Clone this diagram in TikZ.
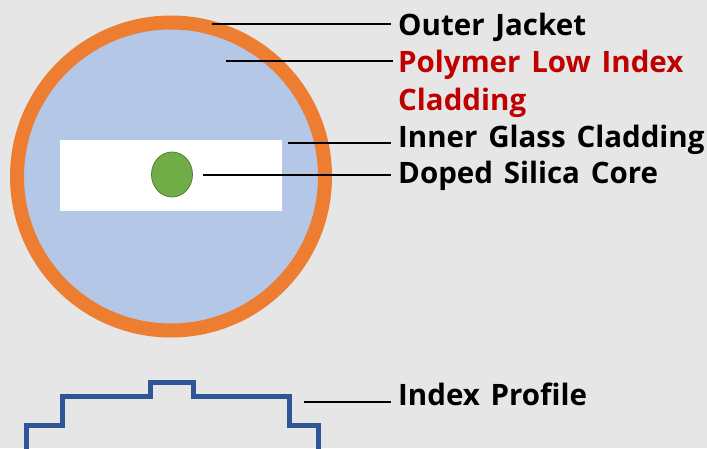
\documentclass[tikz,border=0pt]{standalone}
\usetikzlibrary{shapes.geometric}
\usepackage{fontspec}
\setmainfont[WordSpace=1.4]{Open Sans}
\definecolor{bgc}{HTML}{E6E6E6}
\definecolor{jacket}{HTML}{ED7D31}
\definecolor{clad}{HTML}{B4C7E7}
\definecolor{coreg}{HTML}{70AD47}
\definecolor{coreb}{HTML}{507E32}
\definecolor{prof}{HTML}{2F5597}
\definecolor{redt}{HTML}{C00000}
\tikzset{
 lab/.style={anchor=base west,inner sep=0pt,font=\fontsize{29.5}{32}\selectfont\bfseries,text=black},
 lead/.style={draw=black,line width=2pt},
}
\begin{document}
\begin{tikzpicture}[x=1pt,y=-1pt]
\useasboundingbox (0,0) rectangle (707,448);
\fill[bgc] (0,0) rectangle (707,448);
\node[circle,draw=jacket,fill=clad,line width=14pt,minimum size=308pt,inner sep=0pt] (outer) at (171,176.5) {};
\node[rectangle,fill=white,minimum width=222pt,minimum height=71pt,inner sep=0pt] (inner) at (171,175.5) {};
\node[ellipse,draw=coreb,fill=coreg,line width=0.8pt,minimum width=41pt,minimum height=45pt,inner sep=0pt] (core) at (172,174.5) {};
\node[lab] (l1) at (398,35) {Outer Jacket};
\node[lab,text=redt] (l2) at (398,72) {Polymer Low Index};
\node[lab,text=redt] (l2b) at (398,110) {Cladding};
\node[lab] (l3) at (398,147) {Inner Glass Cladding};
\node[lab] (l4) at (398,183) {Doped Silica Core};
\node[lab] (l5) at (398,405) {Index Profile};
\coordinate (a1) at (212,23.7);
\coordinate (a2) at (226,61.3);
\coordinate (a3) at (288,143.3);
\coordinate (a4) at (203,175);
\coordinate (a5) at (304,401.7);
\draw[lead] (a1) -- (391,23.7);
\draw[lead] (a2) -- (393,61.3);
\draw[lead] (a3) -- (391,143.3);
\draw[lead] (a4) -- (391,175);
\draw[lead] (a5) -- (391,401.7);
\draw[prof,line width=5pt] (26,450) -- (26,425) -- (62,425) -- (62,396) -- (150,396) -- (150,382) -- (193,382) -- (193,396) -- (289,396) -- (289,425) -- (318,425) -- (318,450);
\end{tikzpicture}
\end{document}
